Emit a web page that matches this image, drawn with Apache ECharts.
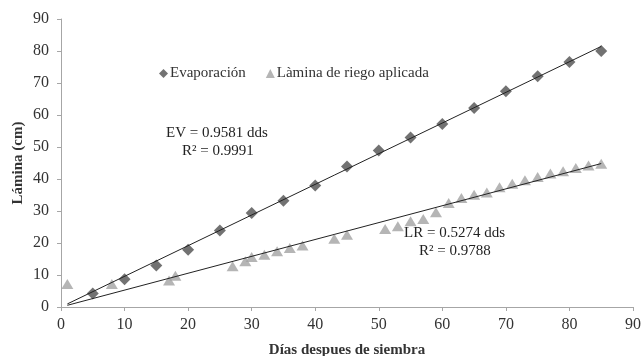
<!DOCTYPE html>
<html>
<head>
<meta charset="utf-8">
<script src="https://cdn.jsdelivr.net/npm/echarts@6/dist/echarts.min.js"></script>
<style>
  html, body { margin: 0; padding: 0; background: #fff; }
  #chart { width: 642px; height: 356px; }
</style>
</head>
<body>
<div id="chart"></div>
<script>
// Evaporación acumulada (días, cm)
const evapDays = [5, 10, 15, 20, 25, 30, 35, 40, 45, 50, 55, 60, 65, 70, 75, 80, 85];
const evapValues = [4.2, 8.7, 13.0, 17.9, 23.9, 29.4, 33.2, 38.0, 43.9, 48.9, 53.0, 57.2, 62.2, 67.4, 72.1, 76.6, 80.0];

// Lámina de riego aplicada acumulada (días, cm)
const riegoDays = [1, 8, 17, 18, 27, 29, 30, 32, 34, 36, 38, 43, 45, 51, 53, 55, 57, 59, 61, 63, 65, 67, 69, 71, 73, 75, 77, 79, 81, 83, 85];
const riegoValues = [7.2, 7.2, 8.3, 9.8, 12.7, 14.3, 15.6, 16.3, 17.4, 18.4, 19.2, 21.3, 22.6, 24.4, 25.2, 26.8, 27.5, 29.6, 32.5, 34.1, 35.1, 35.8, 37.4, 38.5, 39.6, 40.6, 41.7, 42.4, 43.4, 44.2, 44.8];

// Ajustes lineales por el origen
const evapSlope = 0.9581;
const riegoSlope = 0.5274;
const fitRange = [1, 85];

const xTicks = [0, 10, 20, 30, 40, 50, 60, 70, 80, 90];
const yTicks = [0, 10, 20, 30, 40, 50, 60, 70, 80, 90];

const serif = '"Liberation Serif", "Times New Roman", serif';
const axisGray = '#a6a6a6';
const textColor = '#333333';

const pairs = (xs, ys) => xs.map((x, i) => [x, ys[i]]);
const fitLine = slope => fitRange.map(x => [x, slope * x]);

const chart = echarts.init(document.getElementById('chart'), null, { renderer: 'canvas' });

chart.setOption({
  animation: false,
  backgroundColor: '#ffffff',
  grid: { left: 61, top: 19, width: 572, height: 288, containLabel: false, outerBoundsMode: 'none' },
  legend: {
    left: 154,
    top: 61,
    itemGap: 20,
    itemWidth: 9,
    itemHeight: 9,
    textStyle: { fontFamily: serif, fontSize: 15, color: textColor, padding: [0, 0, 0, -3] },
    data: [
      { name: 'Evaporación', icon: 'diamond' },
      { name: 'Làmina de riego aplicada', icon: 'triangle' }
    ]
  },
  xAxis: {
    type: 'value',
    min: xTicks[0],
    max: xTicks[xTicks.length - 1],
    interval: 10,
    name: 'Días despues de siembra',
    nameLocation: 'middle',
    nameGap: 36,
    nameTextStyle: { fontFamily: serif, fontSize: 15, fontWeight: 'bold', color: textColor },
    axisLine: { lineStyle: { color: axisGray, width: 1 } },
    axisTick: { show: true, inside: false, length: 4, lineStyle: { color: axisGray } },
    axisLabel: { fontFamily: serif, fontSize: 16, color: textColor, margin: 10 },
    splitLine: { show: false }
  },
  yAxis: {
    type: 'value',
    min: yTicks[0],
    max: yTicks[yTicks.length - 1],
    interval: 10,
    name: 'Lámina (cm)',
    nameLocation: 'middle',
    nameGap: 35,
    nameMoveOverlap: false,
    nameRotate: 90,
    nameTextStyle: { fontFamily: serif, fontSize: 15, fontWeight: 'bold', color: textColor },
    axisLine: { show: true, lineStyle: { color: axisGray, width: 1 } },
    axisTick: { show: true, inside: false, length: 4, lineStyle: { color: axisGray } },
    axisLabel: { fontFamily: serif, fontSize: 16, color: textColor, margin: 12 },
    splitLine: { show: false }
  },
  series: [
    {
      name: 'Evaporación',
      type: 'scatter',
      symbol: 'diamond',
      symbolSize: 12,
      itemStyle: { color: '#4f4f4f' },
      data: pairs(evapDays, evapValues),
      z: 2
    },
    {
      name: 'Làmina de riego aplicada',
      type: 'scatter',
      symbol: 'triangle',
      symbolSize: [12, 10],
      itemStyle: { color: '#a3a3a3' },
      data: pairs(riegoDays, riegoValues),
      z: 2
    },
    {
      name: 'EV ajuste',
      type: 'line',
      symbol: 'none',
      lineStyle: { color: '#222', width: 1 },
      data: fitLine(evapSlope),
      z: 3,
      silent: true
    },
    {
      name: 'LR ajuste',
      type: 'line',
      symbol: 'none',
      lineStyle: { color: '#222', width: 1 },
      data: fitLine(riegoSlope),
      z: 3,
      silent: true
    }
  ],
  graphic: [
    {
      type: 'text',
      left: 166, top: 126,
      style: { text: 'EV = ' + evapSlope + ' dds', font: '15px ' + serif, fill: '#222' }
    },
    {
      type: 'text',
      left: 182, top: 144,
      style: { text: 'R² = 0.9991', font: '15px ' + serif, fill: '#222' }
    },
    {
      type: 'text',
      left: 404, top: 226,
      style: { text: 'LR = ' + riegoSlope + ' dds', font: '15px ' + serif, fill: '#222' }
    },
    {
      type: 'text',
      left: 419, top: 244,
      style: { text: 'R² = 0.9788', font: '15px ' + serif, fill: '#222' }
    }
  ]
});
</script>
</body>
</html>
